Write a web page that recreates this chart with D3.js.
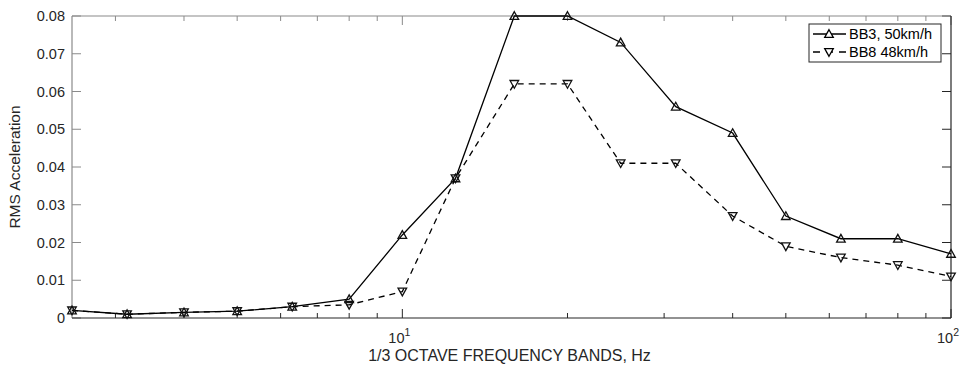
<!DOCTYPE html>
<html>
<head>
<meta charset="utf-8">
<script src="https://cdn.jsdelivr.net/npm/d3@7"></script>
<style>
  body { margin: 0; background: #fff; }
  svg { display: block; font-family: "Liberation Sans", Arial, sans-serif; }
</style>
</head>
<body>
<script>
"use strict"

/* bande di 1/3 d'ottava (Hz) */
const bande = [2.5, 3.15, 4, 5, 6.3, 8, 10, 12.5, 16, 20, 25, 31.5, 40, 50, 63, 80, 100];
/* accelerazione RMS, BB3 a 50 km/h */
const bb3 = [0.002, 0.001, 0.0015, 0.0018, 0.003, 0.005, 0.022, 0.037, 0.080, 0.080, 0.073, 0.056, 0.049, 0.027, 0.021, 0.021, 0.017];
/* accelerazione RMS, BB8 a 48 km/h */
const bb8 = [0.002, 0.001, 0.0015, 0.0018, 0.003, 0.0035, 0.007, 0.037, 0.062, 0.062, 0.041, 0.041, 0.027, 0.019, 0.016, 0.014, 0.011];
const yTicks = [0, 0.01, 0.02, 0.03, 0.04, 0.05, 0.06, 0.07, 0.08];
const xMajor = [10, 100];
const xMinor = [3, 4, 5, 6, 7, 8, 9, 20, 30, 40, 50, 60, 70, 80, 90];
const serie = [
    { nome: "BB3, 50km/h", valori: bb3, tratteggio: null, simbolo: "su" },
    { nome: "BB8 48km/h", valori: bb8, tratteggio: "6,5", simbolo: "giu" }
];

const W = 964, H = 367;
const m = { left: 72, right: 13, top: 16, bottom: 49 };

const svg = d3.select("body").append("svg")
    .attr("width", W)
    .attr("height", H);

const x = d3.scaleLog().domain([2.5, 100]).range([m.left, W - m.right]);
const y = d3.scaleLinear().domain([0, 0.08]).range([H - m.bottom, m.top]);

const grigio = "#8a8a8a";   /* lati sinistro e superiore, più chiari */
const scuro = "#262626";

/* assi: tick verso l'interno come in matlab */
const gAssi = svg.append("g");

function tickX(valori, lung, sotto, colore) {
    const yy = sotto ? y(0) : y(0.08);
    gAssi.selectAll(null).data(valori).enter().append("line")
        .attr("x1", d => x(d)).attr("x2", d => x(d))
        .attr("y1", yy).attr("y2", sotto ? yy - lung : yy + lung)
        .attr("stroke", colore).attr("stroke-width", 1);
}
tickX(xMajor, 9, true, scuro);
tickX(xMinor, 5, true, scuro);
tickX(xMajor, 9, false, grigio);
tickX(xMinor, 5, false, grigio);

gAssi.selectAll(null).data(yTicks).enter().append("line")
    .attr("x1", m.left).attr("x2", m.left + 9)
    .attr("y1", d => y(d)).attr("y2", d => y(d))
    .attr("stroke", grigio);
gAssi.selectAll(null).data(yTicks).enter().append("line")
    .attr("x1", W - m.right).attr("x2", W - m.right - 9)
    .attr("y1", d => y(d)).attr("y2", d => y(d))
    .attr("stroke", scuro);

/* i quattro lati del riquadro */
const x0 = m.left, x1 = W - m.right, y0 = m.top, y1 = H - m.bottom;
[[x0, y0, x1, y0, grigio], [x0, y0, x0, y1, grigio], [x0, y1, x1, y1, scuro], [x1, y0, x1, y1, scuro]]
    .forEach(function (l) {
        gAssi.append("line")
            .attr("x1", l[0]).attr("y1", l[1]).attr("x2", l[2]).attr("y2", l[3])
            .attr("stroke", l[4]).attr("stroke-width", 1.2);
    });

/* etichette dei tick */
svg.append("g").selectAll("text").data(yTicks).enter().append("text")
    .attr("x", m.left - 7).attr("y", d => y(d))
    .attr("dy", "0.35em").attr("text-anchor", "end")
    .attr("font-size", 14.5).attr("fill", scuro)
    .text(d => d === 0 ? "0" : d.toFixed(2));

const etX = svg.append("g").selectAll("text").data(xMajor).enter().append("text")
    .attr("x", d => x(d) - 3).attr("y", y(0) + 25)
    .attr("text-anchor", "middle")
    .attr("font-size", 14.5).attr("fill", scuro);
etX.append("tspan").text("10");
etX.append("tspan").attr("dy", -7).attr("font-size", 10.5)
    .text(d => Math.round(Math.log10(d)));

/* titoli degli assi */
svg.append("text")
    .attr("x", (m.left + W - m.right) / 2 - 2).attr("y", H - 6)
    .attr("text-anchor", "middle")
    .attr("font-size", 16).attr("fill", scuro)
    .text("1/3 OCTAVE FREQUENCY BANDS, Hz");

svg.append("text")
    .attr("transform", "translate(20," + ((m.top + H - m.bottom) / 2) + ") rotate(-90)")
    .attr("text-anchor", "middle")
    .attr("font-size", 15.5).attr("fill", scuro)
    .text("RMS Acceleration");

/* linee e simboli */
const linea = d3.line()
    .x((d, i) => x(bande[i]))
    .y(d => y(d));

function triangolo(cx, cy, verso) {
    const s = 4.3;
    if (verso === "su") {
        return "M" + cx + "," + (cy - s) + "L" + (cx + s) + "," + (cy + s * 0.8) + "L" + (cx - s) + "," + (cy + s * 0.8) + "Z";
    }
    return "M" + cx + "," + (cy + s) + "L" + (cx + s) + "," + (cy - s * 0.8) + "L" + (cx - s) + "," + (cy - s * 0.8) + "Z";
}

serie.forEach(function (s) {
    svg.append("path")
        .datum(s.valori)
        .attr("d", linea)
        .attr("fill", "none")
        .attr("stroke", "#000")
        .attr("stroke-width", 1.3)
        .attr("stroke-dasharray", s.tratteggio);
    svg.append("g").selectAll("path").data(s.valori).enter().append("path")
        .attr("d", (d, i) => triangolo(x(bande[i]), y(d), s.simbolo))
        .attr("fill", "none")
        .attr("stroke", "#111")
        .attr("stroke-width", 1.3);
});

/* legenda */
const leg = { x: 809, y: 24, w: 132, h: 38 };
const gLeg = svg.append("g");
gLeg.append("rect")
    .attr("x", leg.x).attr("y", leg.y).attr("width", leg.w).attr("height", leg.h)
    .attr("fill", "#fff").attr("stroke", scuro);
serie.forEach(function (s, i) {
    const cy = leg.y + 10 + i * 18;
    gLeg.append("line")
        .attr("x1", leg.x + 4).attr("x2", leg.x + 37)
        .attr("y1", cy).attr("y2", cy)
        .attr("stroke", "#000").attr("stroke-width", 1.3)
        .attr("stroke-dasharray", s.tratteggio ? "7,6" : null);
    gLeg.append("path")
        .attr("d", triangolo(leg.x + 20, cy, s.simbolo))
        .attr("fill", "#fff").attr("stroke", "#000").attr("stroke-width", 1.3);
    gLeg.append("text")
        .attr("x", leg.x + 40).attr("y", cy).attr("dy", "0.35em")
        .attr("font-size", 14.5).attr("fill", "#000")
        .text(s.nome);
});
</script>
</body>
</html>
